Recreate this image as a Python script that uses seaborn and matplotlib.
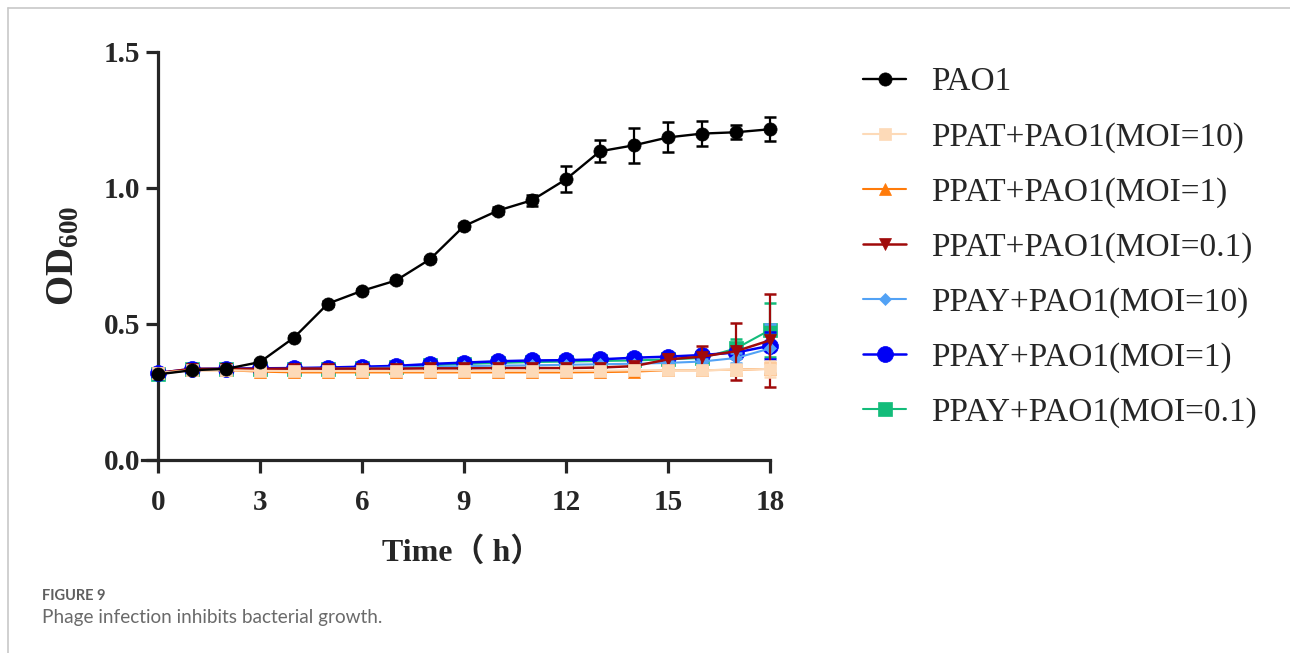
import matplotlib
matplotlib.use('Agg')

import numpy as np
import pandas as pd
import seaborn as sns
import matplotlib.pyplot as plt
from matplotlib.lines import Line2D

# data
time = list(range(19))

pao1 = [0.315, 0.33, 0.335, 0.36, 0.45, 0.575, 0.622, 0.66, 0.738, 0.86, 0.917, 0.955,
        1.032, 1.135, 1.157, 1.186, 1.2, 1.205, 1.216]
pao1_sd = [0.006, 0.005, 0.005, 0.006, 0.006, 0.008, 0.008, 0.008, 0.008, 0.01, 0.012, 0.02,
           0.048, 0.04, 0.064, 0.055, 0.045, 0.025, 0.045]

ppat_10 = [0.32, 0.33, 0.33, 0.328, 0.327, 0.327, 0.327, 0.327, 0.327, 0.327, 0.328, 0.328,
           0.328, 0.328, 0.33, 0.33, 0.33, 0.332, 0.335]
ppat_10_sd = [0.005, 0.006, 0.006, 0.006, 0.006, 0.006, 0.006, 0.006, 0.006, 0.006, 0.006, 0.006,
              0.006, 0.006, 0.008, 0.008, 0.012, 0.02, 0.03]

ppat_1 = [0.32, 0.33, 0.33, 0.325, 0.322, 0.322, 0.322, 0.322, 0.322, 0.322, 0.322, 0.322,
          0.322, 0.323, 0.325, 0.33, 0.33, 0.332, 0.335]
ppat_1_sd = [0.005, 0.008, 0.008, 0.01, 0.012, 0.012, 0.012, 0.012, 0.012, 0.012, 0.012, 0.012,
             0.012, 0.012, 0.012, 0.012, 0.015, 0.015, 0.02]

ppat_01 = [0.32, 0.335, 0.335, 0.335, 0.336, 0.336, 0.336, 0.336, 0.337, 0.337, 0.338, 0.338,
           0.338, 0.34, 0.345, 0.37, 0.38, 0.40, 0.44]
ppat_01_sd = [0.005, 0.005, 0.005, 0.005, 0.005, 0.005, 0.005, 0.005, 0.005, 0.005, 0.005, 0.005,
              0.006, 0.006, 0.008, 0.02, 0.04, 0.105, 0.17]

ppay_10 = [0.32, 0.33, 0.332, 0.334, 0.335, 0.336, 0.338, 0.34, 0.342, 0.345, 0.347, 0.348,
           0.35, 0.352, 0.354, 0.357, 0.362, 0.375, 0.41]
ppay_10_sd = [0.005, 0.005, 0.005, 0.005, 0.005, 0.005, 0.005, 0.005, 0.005, 0.005, 0.005, 0.005,
              0.005, 0.006, 0.006, 0.008, 0.01, 0.02, 0.09]

ppay_1 = [0.32, 0.335, 0.336, 0.337, 0.338, 0.34, 0.343, 0.346, 0.353, 0.358, 0.363, 0.366,
          0.367, 0.37, 0.376, 0.38, 0.386, 0.395, 0.42]
ppay_1_sd = [0.005, 0.005, 0.005, 0.005, 0.005, 0.005, 0.005, 0.005, 0.005, 0.005, 0.005, 0.005,
             0.005, 0.006, 0.006, 0.008, 0.01, 0.015, 0.05]

ppay_01 = [0.315, 0.333, 0.333, 0.333, 0.334, 0.336, 0.338, 0.341, 0.348, 0.353, 0.357, 0.36,
           0.362, 0.364, 0.366, 0.37, 0.375, 0.41, 0.478]
ppay_01_sd = [0.005, 0.005, 0.005, 0.005, 0.005, 0.005, 0.005, 0.005, 0.005, 0.005, 0.005, 0.005,
              0.005, 0.006, 0.006, 0.008, 0.01, 0.035, 0.1]

labels = ['PAO1', 'PPAT+PAO1(MOI=10)', 'PPAT+PAO1(MOI=1)', 'PPAT+PAO1(MOI=0.1)',
          'PPAY+PAO1(MOI=10)', 'PPAY+PAO1(MOI=1)', 'PPAY+PAO1(MOI=0.1)']
means = [pao1, ppat_10, ppat_1, ppat_01, ppay_10, ppay_1, ppay_01]
sds = [pao1_sd, ppat_10_sd, ppat_1_sd, ppat_01_sd, ppay_10_sd, ppay_1_sd, ppay_01_sd]

colors = ['#000000', '#FDDAB8', '#FF7B0A', '#A00A0A', '#52A2F5', '#0000F5', '#13BC7A']
markers = ['o', 's', '^', 'v', 'D', 'o', 's']
msizes = [9.5, 9, 8, 9, 6, 11.5, 10.5]
lwidths = [1.7, 1.5, 1.5, 1.8, 1.5, 1.8, 1.5]

sns.set_style('ticks')
plt.rcParams['mathtext.fontset'] = 'custom'
plt.rcParams['mathtext.bf'] = 'Liberation Serif:bold'
plt.rcParams['mathtext.rm'] = 'Liberation Serif'
plt.rcParams['font.family'] = ['Liberation Serif', 'Noto Sans CJK SC']

fig = plt.figure(figsize=(12.9, 6.53), dpi=100)
ax = fig.add_axes([142 / 1290, 1 - 460 / 653, (770 - 142) / 1290, (460 - 52) / 653])

# Prism draws the first data set on top, so go in reverse
n = len(labels)
for i in reversed(range(n)):
    z = 3 + (n - i) * 2
    sns.lineplot(x=time, y=means[i], color=colors[i], marker=markers[i], markersize=msizes[i],
                 markeredgecolor=colors[i], markeredgewidth=0.5, linewidth=lwidths[i],
                 label=labels[i], ax=ax, zorder=z, clip_on=False)
    ax.errorbar(time, means[i], yerr=sds[i], fmt='none', ecolor=colors[i],
                elinewidth=1.6, capsize=4.5, capthick=1.8, zorder=z - 1, clip_on=False)

ax.set_xlim(-0.47, 18)
ax.set_ylim(0, 1.5)
ax.set_xticks(np.arange(0, 19, 3))
ax.set_yticks([0, 0.5, 1.0, 1.5])
ax.set_yticklabels(['0.0', '0.5', '1.0', '1.5'])
ax.spines['left'].set_position(('data', 0))
ax.spines['top'].set_visible(False)
ax.spines['right'].set_visible(False)
for s in ['left', 'bottom']:
    ax.spines[s].set_linewidth(2.3)
ax.tick_params(axis='both', width=2.3, length=9, labelsize=21)
ax.tick_params(axis='x', pad=12)
ax.tick_params(axis='y', pad=4)
for t in ax.get_xticklabels() + ax.get_yticklabels():
    t.set_fontweight('bold')
    t.set_family('Liberation Serif')

ax.set_ylabel(r'$\mathbf{OD_{600}}$', fontsize=28)
ax.yaxis.set_label_coords(-0.095, 0.5, transform=ax.transAxes)
ax.set_xlabel('Time（ h）', fontsize=23, fontweight='bold')
ax.xaxis.set_label_coords(0.51, -0.19, transform=ax.transAxes)

handles, labs = ax.get_legend_handles_labels()
order = [labs.index(l) for l in labels]
leg = fig.legend([handles[k] for k in order], labels, loc='upper left',
                 bbox_to_anchor=(863 / 1290, 1 - 67 / 653), frameon=False,
                 fontsize=24, handlelength=1.3, handletextpad=0.75,
                 labelspacing=0.73, borderpad=0, borderaxespad=0)
ax.get_legend().remove()

# page frame and caption
fig.add_artist(Line2D([8 / 1290, 1], [1 - 8 / 653, 1 - 8 / 653], color='#c8c8c8', lw=1.2))
fig.add_artist(Line2D([8 / 1290, 8 / 1290], [0, 1 - 8 / 653], color='#c8c8c8', lw=1.2))
fig.text(42 / 1290, 1 - 596 / 653, 'FIGURE 9', fontsize=10.5, color='#5f5f5f',
         family='Lato', fontweight='bold', va='center')
fig.text(42 / 1290, 1 - 618 / 653, 'Phage infection inhibits bacterial growth.', fontsize=13.7,
         color='#6a6a6a', family='Lato', va='center')

plt.savefig('out.png', dpi=100)
plt.close()
